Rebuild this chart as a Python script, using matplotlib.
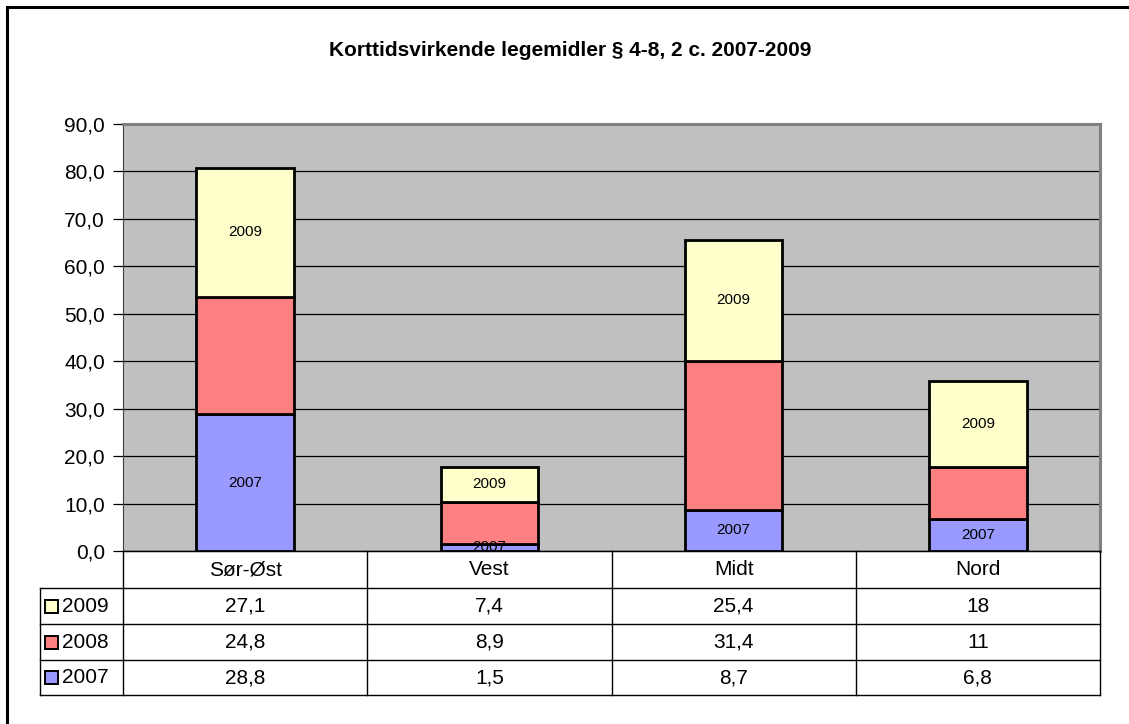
import matplotlib.pyplot as plt
import matplotlib.transforms as mtransforms
from matplotlib.patches import Rectangle
import numpy as np

plt.rcParams['font.family'] = ['Liberation Sans', 'DejaVu Sans']

regions = ['Sør-Øst', 'Vest', 'Midt', 'Nord']
v2007 = [28.8, 1.5, 8.7, 6.8]
v2008 = [24.8, 8.9, 31.4, 11]
v2009 = [27.1, 7.4, 25.4, 18]
years = ['2007', '2008', '2009']
colors = ['#9999FF', '#FF8080', '#FFFFCC']
yticks = np.arange(0, 91, 10)

W, H = 1129, 724
fig = plt.figure(figsize=(W / 100, H / 100), dpi=100)
fig.patch.set_facecolor('white')

# outer frame (only top/left visible)
fig.patches.append(Rectangle((7 / W, -0.2), 1.3, 1.2 - 7 / H, transform=fig.transFigure,
                             fill=False, edgecolor='black', linewidth=2.2, zorder=0))

left, right, top, bottom = 123, 1100, 124, 551
ax = fig.add_axes([left / W, 1 - bottom / H, (right - left) / W, (bottom - top) / H])
ax.set_facecolor('#C0C0C0')

x = np.arange(len(regions))
series = [v2007, v2008, v2009]
base = np.zeros(len(regions))
for i, vals in enumerate(series):
    vals = np.array(vals)
    ax.bar(x, vals, 0.4, bottom=base, color=colors[i], edgecolor='black', linewidth=2.0, zorder=3)
    if years[i] != '2008':
        for xi, b, v in zip(x, base, vals):
            ax.text(xi, b + v / 2, years[i], ha='center', va='center', fontsize=11, zorder=4)
    base = base + vals

ax.set_xlim(-0.5, len(regions) - 0.5)
ax.set_ylim(0, 90)
ax.set_yticks(yticks)
ax.set_yticklabels([f'{t:.1f}'.replace('.', ',') for t in yticks], fontsize=15)
ax.yaxis.grid(True, color='black', linewidth=0.9, zorder=1)
ax.set_axisbelow(True)
ax.set_xticks([])
ax.tick_params(axis='y', length=7, width=0.9, pad=6)
ax.spines['left'].set_color('#404040')
ax.spines['bottom'].set_color('black')
for s in ['top', 'right']:
    ax.spines[s].set_color('#808080')
    ax.spines[s].set_linewidth(2.2)

fig.text(570 / W, 1 - 50 / H, 'Korttidsvirkende legemidler § 4-8, 2 c. 2007-2009', fontsize=15,
         fontweight='bold', ha='center', va='center')

# data table below plot
trans = mtransforms.blended_transform_factory(ax.transData, fig.transFigure)
ftrans = fig.transFigure
rows_px = [551, 588, 624, 660, 695]
fy = [1 - r / H for r in rows_px]
col_edges = np.arange(len(regions) + 1) - 0.5
lw = 1.0

# horizontal lines
for j, yv in enumerate(fy):
    x0 = left / W if j == 0 else 40 / W
    fig.add_artist(plt.Line2D([x0, right / W], [yv, yv], transform=ftrans, color='black', linewidth=lw))
# vertical lines
for ce in col_edges:
    fig.add_artist(plt.Line2D([ce, ce], [fy[0], fy[-1]], transform=trans, color='black', linewidth=lw))
fig.add_artist(plt.Line2D([40 / W, 40 / W], [fy[1], fy[-1]], transform=ftrans, color='black', linewidth=lw))

# header
for xi, name in zip(x, regions):
    fig.text(xi, (fy[0] + fy[1]) / 2, name, transform=trans, ha='center', va='center', fontsize=15)

table_rows = [('2009', v2009, colors[2]), ('2008', v2008, colors[1]), ('2007', v2007, colors[0])]
for r, (lab, vals, c) in enumerate(table_rows):
    yc = (fy[r + 1] + fy[r + 2]) / 2
    sw = 13
    fig.patches.append(Rectangle((45 / W, yc - sw / 2 / H), sw / W, sw / H, transform=ftrans,
                                 facecolor=c, edgecolor='black', linewidth=1.4))
    fig.text(62 / W, yc, lab, transform=ftrans, ha='left', va='center', fontsize=15)
    for xi, v in zip(x, vals):
        s = f'{v:g}'.replace('.', ',')
        fig.text(xi, yc, s, transform=trans, ha='center', va='center', fontsize=15)

fig.savefig('out.png', dpi=100)
